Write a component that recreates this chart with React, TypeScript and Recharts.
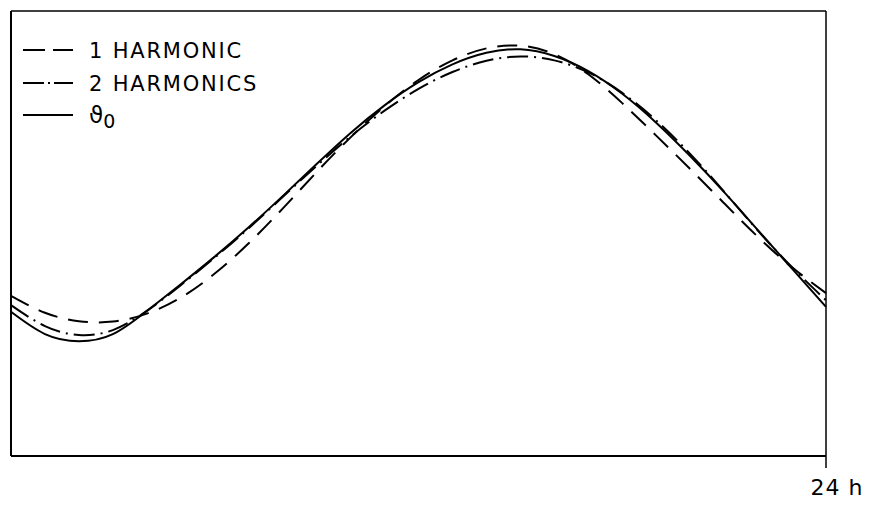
import React from "react";
import {
  LineChart,
  Line,
  XAxis,
  YAxis,
  ReferenceLine,
  Legend,
} from "recharts";

// hours of the day (0..24 h)
const hours = [0, 1, 2, 3, 4, 5, 6, 7, 8, 9, 10, 11, 12, 13, 14, 15, 16, 17, 18, 19, 20, 21, 22, 23, 24];

// relative values (0 = bottom of frame, 100 = top)
const harmonic1 = [36.0, 32.2, 30.3, 30.2, 32.0, 35.6, 41.0, 47.8, 55.6, 63.8, 71.6, 78.6, 84.5, 88.9, 91.6, 92.2, 90.3, 85.8, 79.3, 72.0, 64.5, 56.8, 49.2, 42.4, 36.6];
const harmonics2 = [33.9, 29.2, 27.2, 28.3, 32.6, 38.4, 44.6, 51.2, 58.2, 65.2, 71.8, 77.6, 82.5, 86.3, 88.8, 89.8, 88.9, 86.2, 81.6, 75.4, 67.9, 59.4, 50.6, 42.4, 35.0];
const theta0 = [32.4, 27.4, 25.8, 27.4, 32.6, 38.6, 44.8, 51.4, 58.4, 65.6, 72.6, 78.8, 84.0, 88.0, 90.6, 91.4, 89.9, 86.5, 81.4, 74.9, 67.4, 59.3, 50.7, 42.1, 33.5];

const xTicks = [24];

const data = hours.map((h, i) => ({
  h,
  h1: harmonic1[i],
  h2: harmonics2[i],
  t0: theta0[i],
}));

const FONT = "'DejaVu Sans', sans-serif";

const legendItems = [
  { label: "1 HARMONIC", dash: "22 8", y: 50 },
  { label: "2 HARMONICS", dash: "21 4 2 4", y: 83 },
  { label: "theta", dash: undefined, y: 115 },
];

function renderLegend() {
  return (
    <svg width={300} height={135} style={{ display: "block" }}>
      {legendItems.map((it) => (
        <g key={it.label}>
          <line x1={23} x2={73} y1={it.y} y2={it.y} stroke="#000" strokeWidth={2} strokeDasharray={it.dash} />
          {it.label === "theta" ? (
            <text x={89} y={it.y + 8} fontFamily={FONT} fontSize={23} fill="#000">
              ϑ
              <tspan fontSize={19} dy={5}>0</tspan>
            </text>
          ) : (
            <text x={89} y={it.y + 8} fontFamily={FONT} fontSize={21} letterSpacing={1.8} fill="#000">
              {it.label}
            </text>
          )}
        </g>
      ))}
    </svg>
  );
}

const HourTick = ({ x, y, payload }: any) => (
  <text x={x + 11} y={y + 27} textAnchor="middle" fontFamily={FONT} fontSize={22} letterSpacing={1} fill="#000">
    {`${payload.value} h`}
  </text>
);

export default function App() {
  return (
    <div style={{ position: "absolute", left: 0, top: 0, background: "#fff" }}>
      <LineChart width={871} height={506} data={data} margin={{ top: 11, right: 45, bottom: 20, left: 9 }}>
        <XAxis
          dataKey="h"
          type="number"
          domain={[0, 24]}
          ticks={xTicks}
          height={30}
          axisLine={{ stroke: "#000", strokeWidth: 2 }}
          tickLine={{ stroke: "#000", strokeWidth: 1.5 }}
          tickSize={12}
          tickMargin={0}
          tick={<HourTick />}
        />
        <YAxis
          type="number"
          domain={[0, 100]}
          width={2}
          tick={false}
          tickLine={false}
          axisLine={{ stroke: "#000", strokeWidth: 2 }}
        />
        <ReferenceLine y={100} stroke="#000" strokeWidth={1.5} />
        <ReferenceLine x={24} stroke="#000" strokeWidth={1.5} />
        <Legend
          content={renderLegend}
          layout="horizontal"
          verticalAlign="middle"
          align="center"
          wrapperStyle={{ top: 0, left: 0, width: 300 }}
        />
        <Line type="natural" dataKey="h1" name="1 HARMONIC" stroke="#000" strokeWidth={2} strokeDasharray="20 11" dot={false} isAnimationActive={false} />
        <Line type="natural" dataKey="h2" name="2 HARMONICS" stroke="#000" strokeWidth={2} strokeDasharray="21 6 2 6" dot={false} isAnimationActive={false} />
        <Line type="natural" dataKey="t0" name="theta0" stroke="#000" strokeWidth={2} dot={false} isAnimationActive={false} />
      </LineChart>
    </div>
  );
}
